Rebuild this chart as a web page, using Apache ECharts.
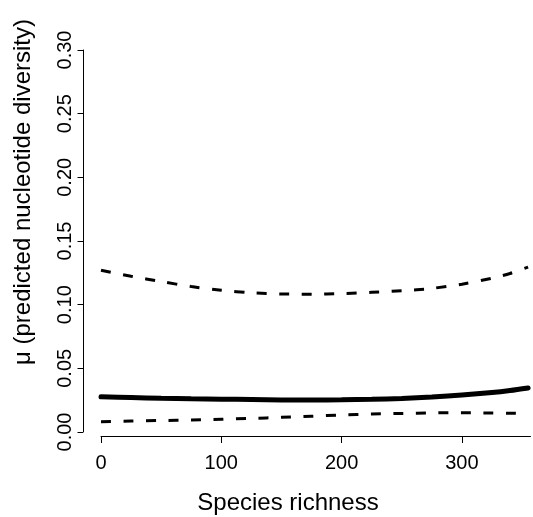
<!DOCTYPE html>
<html>
<head>
<meta charset="utf-8">
<script src="https://cdn.jsdelivr.net/npm/echarts@6/dist/echarts.min.js"></script>
<style>
html,body{margin:0;padding:0;background:#fff;}
#chart{width:533px;height:517px;}
</style>
</head>
<body>
<div id="chart"></div>
<script>
// ---- data ----
var speciesRichness = [0, 25, 50, 75, 100, 125, 150, 175, 200, 225, 250, 275, 300, 325, 340, 355];
var fitMu      = [0.0277, 0.0271, 0.0265, 0.0261, 0.0258, 0.0255, 0.0252, 0.0251, 0.0253, 0.0257, 0.0264, 0.0275, 0.0290, 0.0310, 0.0326, 0.0346];
var upperMu    = [0.1270, 0.1223, 0.1182, 0.1142, 0.1113, 0.1093, 0.1084, 0.1082, 0.1087, 0.1097, 0.1109, 0.1128, 0.1161, 0.1208, 0.1245, 0.1295];
var lowerMu    = [0.0081, 0.0086, 0.0090, 0.0094, 0.0100, 0.0107, 0.0115, 0.0124, 0.0134, 0.0141, 0.0146, 0.0150, 0.0151, 0.0149, 0.0148, 0.0147];
var xTicks     = [0, 100, 200, 300];
var yTicks     = [0, 0.05, 0.10, 0.15, 0.20, 0.25, 0.30];
var xTitle = 'Species richness';
var yTitle = 'μ (predicted nucleotide diversity)';

function pairs(xs, ys){ return xs.map(function(x,i){ return [x, ys[i]]; }); }

var FONT = 'Liberation Sans, Arial, Helvetica, sans-serif';
var chart = echarts.init(document.getElementById('chart'), null, {renderer:'canvas'});
chart.setOption({
  animation: false,
  backgroundColor: '#ffffff',
  grid: {left: 101, right: 2.5, top: 50, bottom: 85, containLabel: false},
  xAxis: {
    type: 'value', min: 0, max: 357, offset: 4,
    splitLine: {show: false},
    axisLine: {show: true, onZero: false, lineStyle: {color: '#000', width: 1}},
    axisTick: {show: true, length: 7, customValues: xTicks, lineStyle: {color: '#000', width: 1}},
    axisLabel: {customValues: xTicks, color: '#000', fontSize: 20, fontFamily: FONT, margin: 17}
  },
  yAxis: {
    type: 'value', min: 0, max: 0.30, interval: 0.05, offset: 18,
    splitLine: {show: false},
    axisLine: {show: true, onZero: false, lineStyle: {color: '#000', width: 1}},
    axisTick: {show: true, length: 5.5, customValues: yTicks, lineStyle: {color: '#000', width: 1}},
    axisLabel: {customValues: yTicks, rotate: 90, color: '#000', fontSize: 20, fontFamily: FONT, margin: 8,
      formatter: function(v){ return v.toFixed(2); }}
  },
  graphic: [
    {type: 'text', x: 288, y: 503.5, style: {text: xTitle, fontSize: 24, fontFamily: FONT, fill: '#000', align: 'center', verticalAlign: 'middle'}},
    {type: 'text', x: 23, y: 192, rotation: Math.PI/2, style: {text: yTitle, fontSize: 24, fontFamily: FONT, fill: '#000', align: 'center', verticalAlign: 'middle'}}
  ],
  series: [
    {type: 'line', data: pairs(speciesRichness, upperMu), smooth: 0.3, showSymbol: false, silent: true,
      lineStyle: {color: '#000', width: 3, type: [10, 12.5], cap: 'butt'}},
    {type: 'line', data: pairs(speciesRichness, fitMu), smooth: 0.3, showSymbol: false, silent: true,
      lineStyle: {color: '#000', width: 5, type: 'solid', cap: 'round'}},
    {type: 'line', data: pairs(speciesRichness, lowerMu), smooth: 0.3, showSymbol: false, silent: true,
      lineStyle: {color: '#000', width: 3, type: [10, 12.5], cap: 'butt'}}
  ]
});
</script>
</body>
</html>
